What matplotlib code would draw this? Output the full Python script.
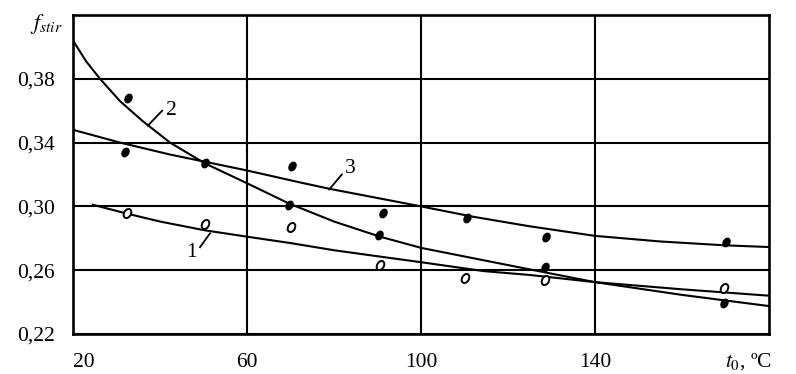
import matplotlib

matplotlib.use("Agg")
import matplotlib.pyplot as plt
from matplotlib.markers import MarkerStyle
from matplotlib.transforms import Affine2D

plt.rcParams["font.family"] = ["Liberation Serif", "DejaVu Serif"]
plt.rcParams["mathtext.fontset"] = "stix"

# fitted curves
curve1_x = [24.6, 32.2, 40, 50.3, 60, 70, 80, 90.6, 100, 114.5, 125, 140, 160, 180]
curve1_y = [0.301, 0.2956, 0.2905, 0.285, 0.281, 0.277, 0.2725, 0.2685, 0.265, 0.2594, 0.257, 0.2525, 0.248, 0.244]

curve2_x = [20, 23, 26.2, 30.8, 36, 42.3, 50.3, 60, 69.5, 80, 90.6, 100, 112, 125, 140, 150, 160, 170, 180]
curve2_y = [0.404, 0.391, 0.38, 0.366, 0.3535, 0.34, 0.327, 0.3145, 0.302, 0.2905, 0.281, 0.274, 0.2675, 0.2605,
            0.2525, 0.2485, 0.2445, 0.241, 0.2375]

curve3_x = [20, 30.8, 42.3, 50.3, 60, 72.2, 79, 100, 112, 125, 140, 155, 169.7, 180]
curve3_y = [0.348, 0.340, 0.3325, 0.328, 0.3225, 0.315, 0.311, 0.30, 0.2935, 0.2875, 0.2815, 0.278, 0.2756, 0.2745]

# measured points
pts1_x = [32.4, 50.3, 70.1, 90.6, 110.1, 128.5, 169.6]
pts1_y = [0.2956, 0.289, 0.287, 0.263, 0.255, 0.254, 0.249]
pts2_x = [32.6, 50.3, 69.7, 90.3, 128.5, 169.6]
pts2_y = [0.368, 0.3275, 0.3006, 0.282, 0.262, 0.2395]
pts3_x = [32.0, 70.3, 91.3, 110.6, 128.7, 170.0]
pts3_y = [0.334, 0.325, 0.2956, 0.293, 0.281, 0.2775]

x_ticks = [20, 60, 100, 140]
y_ticks = [0.22, 0.26, 0.30, 0.34, 0.38]
y_labels = ["0,22", "0,26", "0,30", "0,34", "0,38"]

fig = plt.figure(figsize=(7.96, 3.74), dpi=100)
ax = fig.add_axes([0.0917, 0.107, 0.8744, 0.853])
ax.set_xlim(20, 180)
ax.set_ylim(0.22, 0.42)

for s in ax.spines.values():
    s.set_linewidth(1.9)
ax.set_xticks(x_ticks)
ax.set_yticks(y_ticks)
ax.set_yticklabels(y_labels)
ax.tick_params(length=0, labelsize=15.5)
ax.tick_params(axis="x", pad=14)
ax.tick_params(axis="y", pad=13)
ax.get_xticklabels()[0].set_ha("left")
ax.grid(True, color="black", lw=1.5)
ax.set_axisbelow(True)

ax.plot(curve1_x, curve1_y, color="black", lw=1.5)
ax.plot(curve2_x, curve2_y, color="black", lw=1.5)
ax.plot(curve3_x, curve3_y, color="black", lw=1.5)

oval = MarkerStyle("o", transform=Affine2D().scale(0.7, 1.0).rotate_deg(-30))
ax.plot(pts1_x, pts1_y, ls="none", marker=oval, ms=7, mfc="white", mec="black", mew=1.4)
ax.plot(pts2_x, pts2_y, ls="none", marker=oval, ms=6.5, mfc="black", mec="black")
ax.plot(pts3_x, pts3_y, ls="none", marker=oval, ms=6.5, mfc="black", mec="black")

# curve numbers with leader lines
ax.plot([37.2, 40.5], [0.3506, 0.36], color="black", lw=1.3)
ax.text(41.3, 0.36, "2", fontsize=15.5, va="center", ha="left")
ax.plot([78.9, 81.8], [0.3106, 0.32], color="black", lw=1.3)
ax.text(82.6, 0.3238, "3", fontsize=15.5, va="center", ha="left")
ax.plot([49.2, 51.5], [0.2744, 0.2831], color="black", lw=1.3)
ax.text(48.4, 0.271, "1", fontsize=15.5, va="center", ha="right")

fig.text(0.078, 0.935, r"$f_{stir}$", fontsize=16, ha="right", va="center")
fig.text(0.97, 0.032, r"$t_0$, ºC", fontsize=15.5, ha="right", va="center")

fig.savefig("out.png", dpi=100)
